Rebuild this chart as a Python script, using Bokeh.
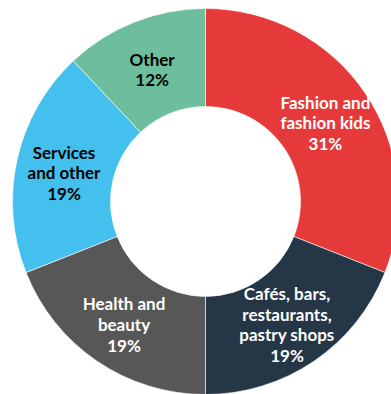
import math
from bokeh.plotting import figure
from bokeh.models import ColumnDataSource, Range1d
from bokeh.core.properties import value
from bokeh.embed import file_html
from bokeh.resources import INLINE

categories = ["Fashion and\nfashion kids", "Cafés, bars,\nrestaurants,\npastry shops",
              "Health and\nbeauty", "Services\nand other", "Other"]
shares = [31, 19, 19, 19, 12]
colors = ["#E5393A", "#253646", "#575757", "#43C0EE", "#6CBE9C"]
text_colors = ["white", "white", "white", "black", "black"]

W, H = 391, 394
cx, cy = 205, H - 201
r_out, r_in = 193, 95
r_lab = 145

total = float(sum(shares))
starts, ends, lx, ly, labels = [], [], [], [], []
cum = 0.0
for c, s in zip(categories, shares):
    a0 = math.pi / 2 - 2 * math.pi * cum / total
    cum += s
    a1 = math.pi / 2 - 2 * math.pi * cum / total
    starts.append(a1)
    ends.append(a0)
    mid = (a0 + a1) / 2
    lx.append(cx + r_lab * math.cos(mid))
    ly.append(cy + r_lab * math.sin(mid))
    labels.append(f"{c}\n{s}%")

src = ColumnDataSource(dict(start=starts, end=ends, color=colors, x=lx, y=ly,
                            label=labels, tc=text_colors))

p = figure(width=W, height=H, x_range=Range1d(0, W), y_range=Range1d(0, H),
           output_backend="svg", toolbar_location=None, min_border=0)
p.axis.visible = False
p.grid.visible = False
p.outline_line_color = None
p.background_fill_color = "white"
p.border_fill_color = "white"

p.annular_wedge(x=cx, y=cy, inner_radius=r_in, outer_radius=r_out,
                start_angle="start", end_angle="end", fill_color="color",
                line_color="white", line_width=0.6, source=src)
p.text(x="x", y="y", text="label", text_color="tc", text_align="center",
       text_baseline="middle", text_font=value("Lato"), text_font_style="bold",
       text_font_size="17px", text_line_height=0.98, y_offset=3, source=src)

open("out.html", "w").write(file_html(p, INLINE))
